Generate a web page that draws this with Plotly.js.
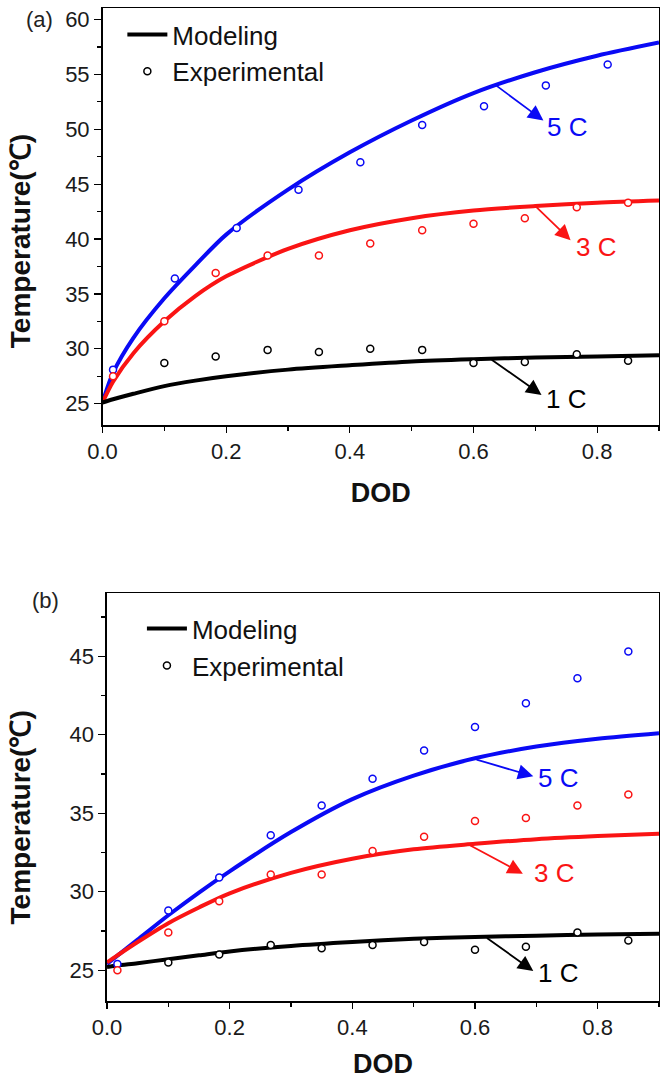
<!DOCTYPE html>
<html>
<head>
<meta charset="utf-8">
<script src="https://cdn.plot.ly/plotly-3.0.1.min.js"></script>
<style>
html,body{margin:0;padding:0;background:#fff;}
#chart{width:660px;height:1079px;}
</style>
</head>
<body>
<div id="chart"></div>
<script>
// ---------- Data ----------
// Modeling curves (DOD grid)
const modelDOD = [0, 0.017, 0.05, 0.1, 0.15, 0.2, 0.3, 0.4, 0.5, 0.6, 0.7, 0.8, 0.9];
// Panel (a)
const aModel5C = [25.1, 27.8, 31.0, 34.6, 37.6, 40.4, 44.5, 47.9, 50.8, 53.3, 55.2, 56.7, 57.9];
const aModel3C = [25.1, 27.0, 29.6, 32.5, 34.8, 36.6, 39.1, 40.8, 41.9, 42.6, 43.0, 43.3, 43.5];
const aModel1C = [25.1, 25.4, 25.9, 26.6, 27.1, 27.5, 28.1, 28.5, 28.85, 29.05, 29.2, 29.3, 29.4];
const aExpDOD5C = [0.017, 0.117, 0.217, 0.317, 0.417, 0.517, 0.617, 0.717, 0.817];
const aExp5C = [28.1, 36.4, 41.0, 44.5, 47.0, 50.4, 52.1, 54.0, 55.9];
const expDOD = [0.017, 0.1, 0.183, 0.267, 0.35, 0.433, 0.517, 0.6, 0.683, 0.767, 0.85];
const aExp3C = [27.5, 32.5, 36.9, 38.5, 38.5, 39.6, 40.8, 41.4, 41.9, 42.9, 43.3];
const aExp1C = [null, 28.7, 29.3, 29.9, 29.7, 30.0, 29.9, 28.7, 28.8, 29.5, 28.9];
// Panel (b)
const bModel5C = [25.4, 25.93, 26.95, 28.5, 29.95, 31.3, 33.8, 35.9, 37.4, 38.5, 39.25, 39.75, 40.1];
const bModel3C = [25.5, 25.95, 26.8, 28.0, 29.0, 29.9, 31.2, 32.1, 32.7, 33.05, 33.35, 33.55, 33.7];
const bModel1C = [25.2, 25.3, 25.45, 25.7, 25.95, 26.2, 26.55, 26.8, 27.0, 27.12, 27.2, 27.28, 27.33];
const bExp5C = [25.4, 28.8, 30.9, 33.6, 35.5, 37.2, 39.0, 40.5, 42.0, 43.6, 45.3];
const bExp3C = [25.0, 27.4, 29.4, 31.1, 31.1, 32.6, 33.5, 34.5, 34.7, 35.5, 36.2];
const bExp1C = [null, 25.5, 26.0, 26.6, 26.4, 26.6, 26.8, 26.3, 26.5, 27.4, 26.9];

const rateLabels = ['5 C', '3 C', '1 C'];
const legendNames = ['Modeling', 'Experimental'];
const panelLabels = ['(a)', '(b)'];
const xTitle = 'DOD';
const yTitle = 'Temperature(℃)';

// ---------- Styles ----------
const BLUE = 'rgb(10,10,245)', RED = 'rgb(250,20,20)', BLACK = '#000';
const FONT = 'Arial, "Liberation Sans", sans-serif';

function model(x, y, color, xa, ya, legendOpts) {
  return Object.assign({
    x: x, y: y, xaxis: xa, yaxis: ya, type: 'scatter', mode: 'lines',
    line: {color: color, width: 4, shape: 'spline', smoothing: 0.8},
    showlegend: false, hoverinfo: 'skip'
  }, legendOpts || {});
}
function exp(x, y, color, xa, ya, legendOpts) {
  return Object.assign({
    x: x, y: y, xaxis: xa, yaxis: ya, type: 'scatter', mode: 'markers',
    marker: {symbol: 'circle', size: 7, color: '#fff', line: {color: color, width: 1.5}},
    showlegend: false, hoverinfo: 'skip'
  }, legendOpts || {});
}

const traces = [
  model(modelDOD, aModel5C, BLUE, 'x', 'y'),
  model(modelDOD, aModel3C, RED, 'x', 'y'),
  model(modelDOD, aModel1C, BLACK, 'x', 'y', {showlegend: true, name: legendNames[0], legend: 'legend'}),
  exp(aExpDOD5C, aExp5C, BLUE, 'x', 'y'),
  exp(expDOD, aExp3C, RED, 'x', 'y'),
  exp(expDOD, aExp1C, BLACK, 'x', 'y', {showlegend: true, name: legendNames[1], legend: 'legend'}),
  model(modelDOD, bModel5C, BLUE, 'x2', 'y2'),
  model(modelDOD, bModel3C, RED, 'x2', 'y2'),
  model(modelDOD, bModel1C, BLACK, 'x2', 'y2', {showlegend: true, name: legendNames[0], legend: 'legend2'}),
  exp(expDOD, bExp5C, BLUE, 'x2', 'y2'),
  exp(expDOD, bExp3C, RED, 'x2', 'y2'),
  exp(expDOD, bExp1C, BLACK, 'x2', 'y2', {showlegend: true, name: legendNames[1], legend: 'legend2'})
];

function xAxis(domain, anchor) {
  return {
    domain: domain, anchor: anchor, range: [0, 0.9], autorange: false,
    tickmode: 'linear', tick0: 0, dtick: 0.2, tickformat: '.1f',
    ticks: 'outside', ticklen: 6, tickwidth: 1.3, tickcolor: '#000',
    minor: {dtick: 0.1, ticks: 'outside', ticklen: 4, tickwidth: 1.2, tickcolor: '#000', showgrid: false},
    showline: true, linecolor: '#000', linewidth: 1.5, mirror: true,
    showgrid: false, zeroline: false, automargin: false,
    tickfont: {family: FONT, size: 22, color: '#1a1a1a'},
    title: {text: '<b>' + xTitle + '</b>', font: {family: FONT, size: 27, color: '#111'}, standoff: 20}
  };
}
function yAxis(domain, anchor, range) {
  return {
    domain: domain, anchor: anchor, range: range, autorange: false,
    tickmode: 'linear', tick0: 0, dtick: 5,
    ticks: 'outside', ticklen: 7, tickwidth: 1.3, tickcolor: '#000',
    minor: {dtick: 2.5, ticks: 'outside', ticklen: 4, tickwidth: 1.2, tickcolor: '#000', showgrid: false},
    showline: true, linecolor: '#000', linewidth: 1.5, mirror: true,
    showgrid: false, zeroline: false, automargin: false,
    tickfont: {family: FONT, size: 22, color: '#1a1a1a'}
  };
}

function arrow(xa, ya, tail, head, color) {
  return {xref: xa, yref: ya, axref: xa, ayref: ya, x: head[0], y: head[1], ax: tail[0], ay: tail[1],
    text: '', showarrow: true, arrowhead: 2, arrowsize: 1.7, arrowwidth: 1.8, arrowcolor: color};
}
function label(xa, ya, pos, text, color) {
  return {xref: xa, yref: ya, x: pos[0], y: pos[1], text: text, showarrow: false,
    xanchor: 'left', yanchor: 'middle', font: {family: FONT, size: 26, color: color}};
}
function paperText(x, y, text, size, angle, bold) {
  return {xref: 'paper', yref: 'paper', x: x, y: y, text: bold ? '<b>' + text + '</b>' : text,
    showarrow: false, xanchor: 'center', yanchor: 'middle', textangle: angle,
    font: {family: FONT, size: size, color: bold ? '#111' : '#222'}};
}

const annotations = [
  arrow('x', 'y', [0.634, 54.1], [0.713, 50.8], BLUE), label('x', 'y', [0.716, 50.2], rateLabels[0], BLUE),
  arrow('x', 'y', [0.698, 43.1], [0.757, 39.9], RED), label('x', 'y', [0.762, 39.3], rateLabels[1], RED),
  arrow('x', 'y', [0.627, 29.1], [0.71, 25.8], BLACK), label('x', 'y', [0.714, 25.4], rateLabels[2], BLACK),
  arrow('x2', 'y2', [0.6, 38.45], [0.695, 37.35], BLUE), label('x2', 'y2', [0.699, 37.25], rateLabels[0], BLUE),
  arrow('x2', 'y2', [0.59, 33.0], [0.678, 31.15], RED), label('x2', 'y2', [0.693, 31.2], rateLabels[1], RED),
  arrow('x2', 'y2', [0.617, 27.12], [0.695, 24.95], BLACK), label('x2', 'y2', [0.699, 24.85], rateLabels[2], BLACK),
  paperText(-0.109, 0.988, panelLabels[0], 22, 0, false),
  paperText(-0.098, 0.4036, panelLabels[1], 22, 0, false),
  paperText(-0.1429, 0.7653, yTitle, 28, -90, true),
  paperText(-0.1429, 0.185, yTitle, 28, -90, true)
];

const legendBase = {
  bgcolor: 'rgba(0,0,0,0)', borderwidth: 0, xanchor: 'left', yanchor: 'top',
  font: {family: FONT, size: 26, color: '#111'}, tracegroupgap: 0, itemwidth: 40
};

const layout = {
  width: 660, height: 1079,
  margin: {l: 100, r: 1, t: 8, b: 78},
  paper_bgcolor: '#fff', plot_bgcolor: '#fff',
  font: {family: FONT},
  xaxis: xAxis([0.0045, 1], 'y'),
  yaxis: yAxis([0.58, 1], 'x', [23.05, 61.05]),
  xaxis2: xAxis([0.0125, 1], 'y2'),
  yaxis2: yAxis([0, 0.4104], 'x2', [23.04, 49.0]),
  legend: Object.assign({}, legendBase, {x: 0.04, y: 0.997}),
  legend2: Object.assign({}, legendBase, {x: 0.075, y: 0.3986}),
  annotations: annotations,
  showlegend: true
};

Plotly.newPlot('chart', traces, layout, {staticPlot: true, displayModeBar: false});
</script>
</body>
</html>
